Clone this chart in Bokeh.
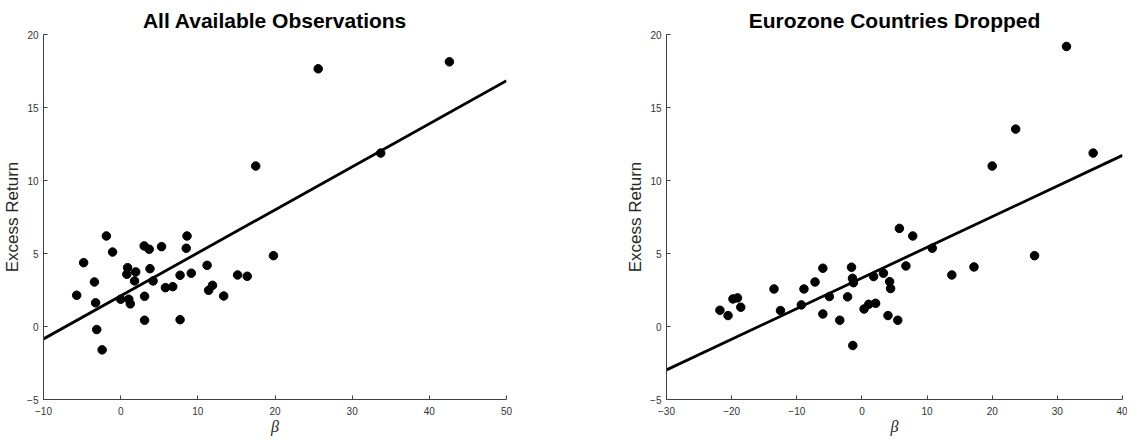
from bokeh.plotting import figure
from bokeh.layouts import row
from bokeh.models import Range1d, FixedTicker
from bokeh.embed import file_html
from bokeh.resources import INLINE

# ---- Data: All Available Observations ----
all_beta = [-5.7, -4.8, -3.4, -3.25, -3.1, -2.4, -1.85, -1.05, 0.0, 0.9, 0.8, 1.05, 1.25,
            1.95, 1.8, 3.05, 3.7, 3.8, 3.1, 3.1, 4.2, 5.3, 5.8, 6.75, 7.7, 7.7, 8.5, 8.6,
            9.15, 11.2, 11.4, 11.9, 13.35, 15.15, 16.4, 19.8, 17.5, 25.6, 33.7, 42.6]
all_ret = [2.14, 4.37, 3.05, 1.62, -0.21, -1.60, 6.20, 5.10, 1.87, 4.03, 3.58, 1.87, 1.55,
           3.74, 3.12, 5.52, 5.29, 3.96, 2.07, 0.43, 3.12, 5.47, 2.66, 2.73, 3.51, 0.47, 5.36,
           6.20, 3.65, 4.19, 2.48, 2.82, 2.09, 3.53, 3.44, 4.85, 10.99, 17.65, 11.88, 18.13]
all_fit_x = [-10, 50]
all_fit_y = [-0.85, 16.83]

# ---- Data: Eurozone Countries Dropped ----
nez_beta = [-21.8, -20.55, -19.8, -19.1, -18.6, -13.5, -12.5, -9.3, -8.9, -7.2, -6.0, -6.0,
            -5.0, -3.4, -2.2, -1.6, -1.45, -1.3, -1.4, 0.33, 1.05, 2.1, 1.8, 3.3, 4.25, 4.4,
            4.0, 5.5, 5.75, 6.75, 7.8, 10.8, 13.8, 17.2, 20.0, 23.6, 26.5, 31.4, 35.5]
nez_ret = [1.11, 0.75, 1.89, 1.96, 1.32, 2.57, 1.09, 1.48, 2.57, 3.05, 3.99, 0.86,
           2.05, 0.43, 2.03, 4.06, 3.30, 3.00, -1.30, 1.20, 1.52, 1.59, 3.42, 3.65, 3.07, 2.60,
           0.75, 0.43, 6.72, 4.15, 6.20, 5.36, 3.53, 4.08, 10.99, 13.52, 4.85, 19.18, 11.88]
nez_fit_x = [-30, 40]
nez_fit_y = [-2.97, 11.72]

titles = ["All Available Observations", "Eurozone Countries Dropped"]
x_ticks = [[-10, 0, 10, 20, 30, 40, 50], [-30, -20, -10, 0, 10, 20, 30, 40]]
y_ticks = [-5, 0, 5, 10, 15, 20]
y_label = "Excess Return"
x_label = "β"

AX = "#404040"


def make_panel(title, xs, ys, fx, fy, xt, frame_w, border_right):
    p = figure(frame_width=frame_w, frame_height=365,
               output_backend="svg", toolbar_location=None,
               x_range=Range1d(xt[0], xt[-1]), y_range=Range1d(-5, 20),
               min_border_left=42, min_border_right=border_right,
               min_border_top=34, min_border_bottom=28)
    p.outline_line_color = None
    p.background_fill_color = "white"
    p.border_fill_color = "white"
    p.grid.visible = False

    p.title.text = title
    p.title.align = "center"
    p.title.text_font = "Liberation Sans"
    p.title.text_font_style = "bold"
    p.title.text_font_size = "21px"
    p.title.text_color = "black"
    p.title.standoff = 5

    for ax in (p.xaxis[0], p.yaxis[0]):
        ax.axis_line_color = AX
        ax.axis_line_width = 1
        ax.major_tick_line_color = AX
        ax.major_tick_in = 4
        ax.major_tick_out = 0
        ax.minor_tick_line_color = None
        ax.major_label_text_font = "Liberation Sans"
        ax.major_label_text_font_size = "10px"
        ax.major_label_text_color = "#333333"
        ax.axis_label_text_color = "#262626"
        ax.axis_label_text_font_style = "normal"

    p.xaxis.major_label_standoff = 7
    p.yaxis.major_label_standoff = 5
    p.xaxis.ticker = FixedTicker(ticks=xt)
    p.yaxis.ticker = FixedTicker(ticks=y_ticks)
    p.yaxis.axis_label = y_label
    p.yaxis.axis_label_text_font = "Liberation Sans"
    p.yaxis.axis_label_text_font_size = "17px"
    p.yaxis.axis_label_standoff = 2
    p.xaxis.axis_label = x_label
    p.xaxis.axis_label_text_font = "Liberation Serif"
    p.xaxis.axis_label_text_font_style = "italic"
    p.xaxis.axis_label_text_font_size = "16px"
    p.xaxis.axis_label_standoff = 0

    p.line(fx, fy, line_color="black", line_width=2.8)
    p.scatter(xs, ys, size=8.5, fill_color="black", line_color="black")
    return p


p1 = make_panel(titles[0], all_beta, all_ret, all_fit_x, all_fit_y, x_ticks[0], 463, 117)
p2 = make_panel(titles[1], nez_beta, nez_ret, nez_fit_x, nez_fit_y, x_ticks[1], 456, 5)

layout = row(p1, p2)
open("out.html", "w").write(file_html(layout, INLINE))
